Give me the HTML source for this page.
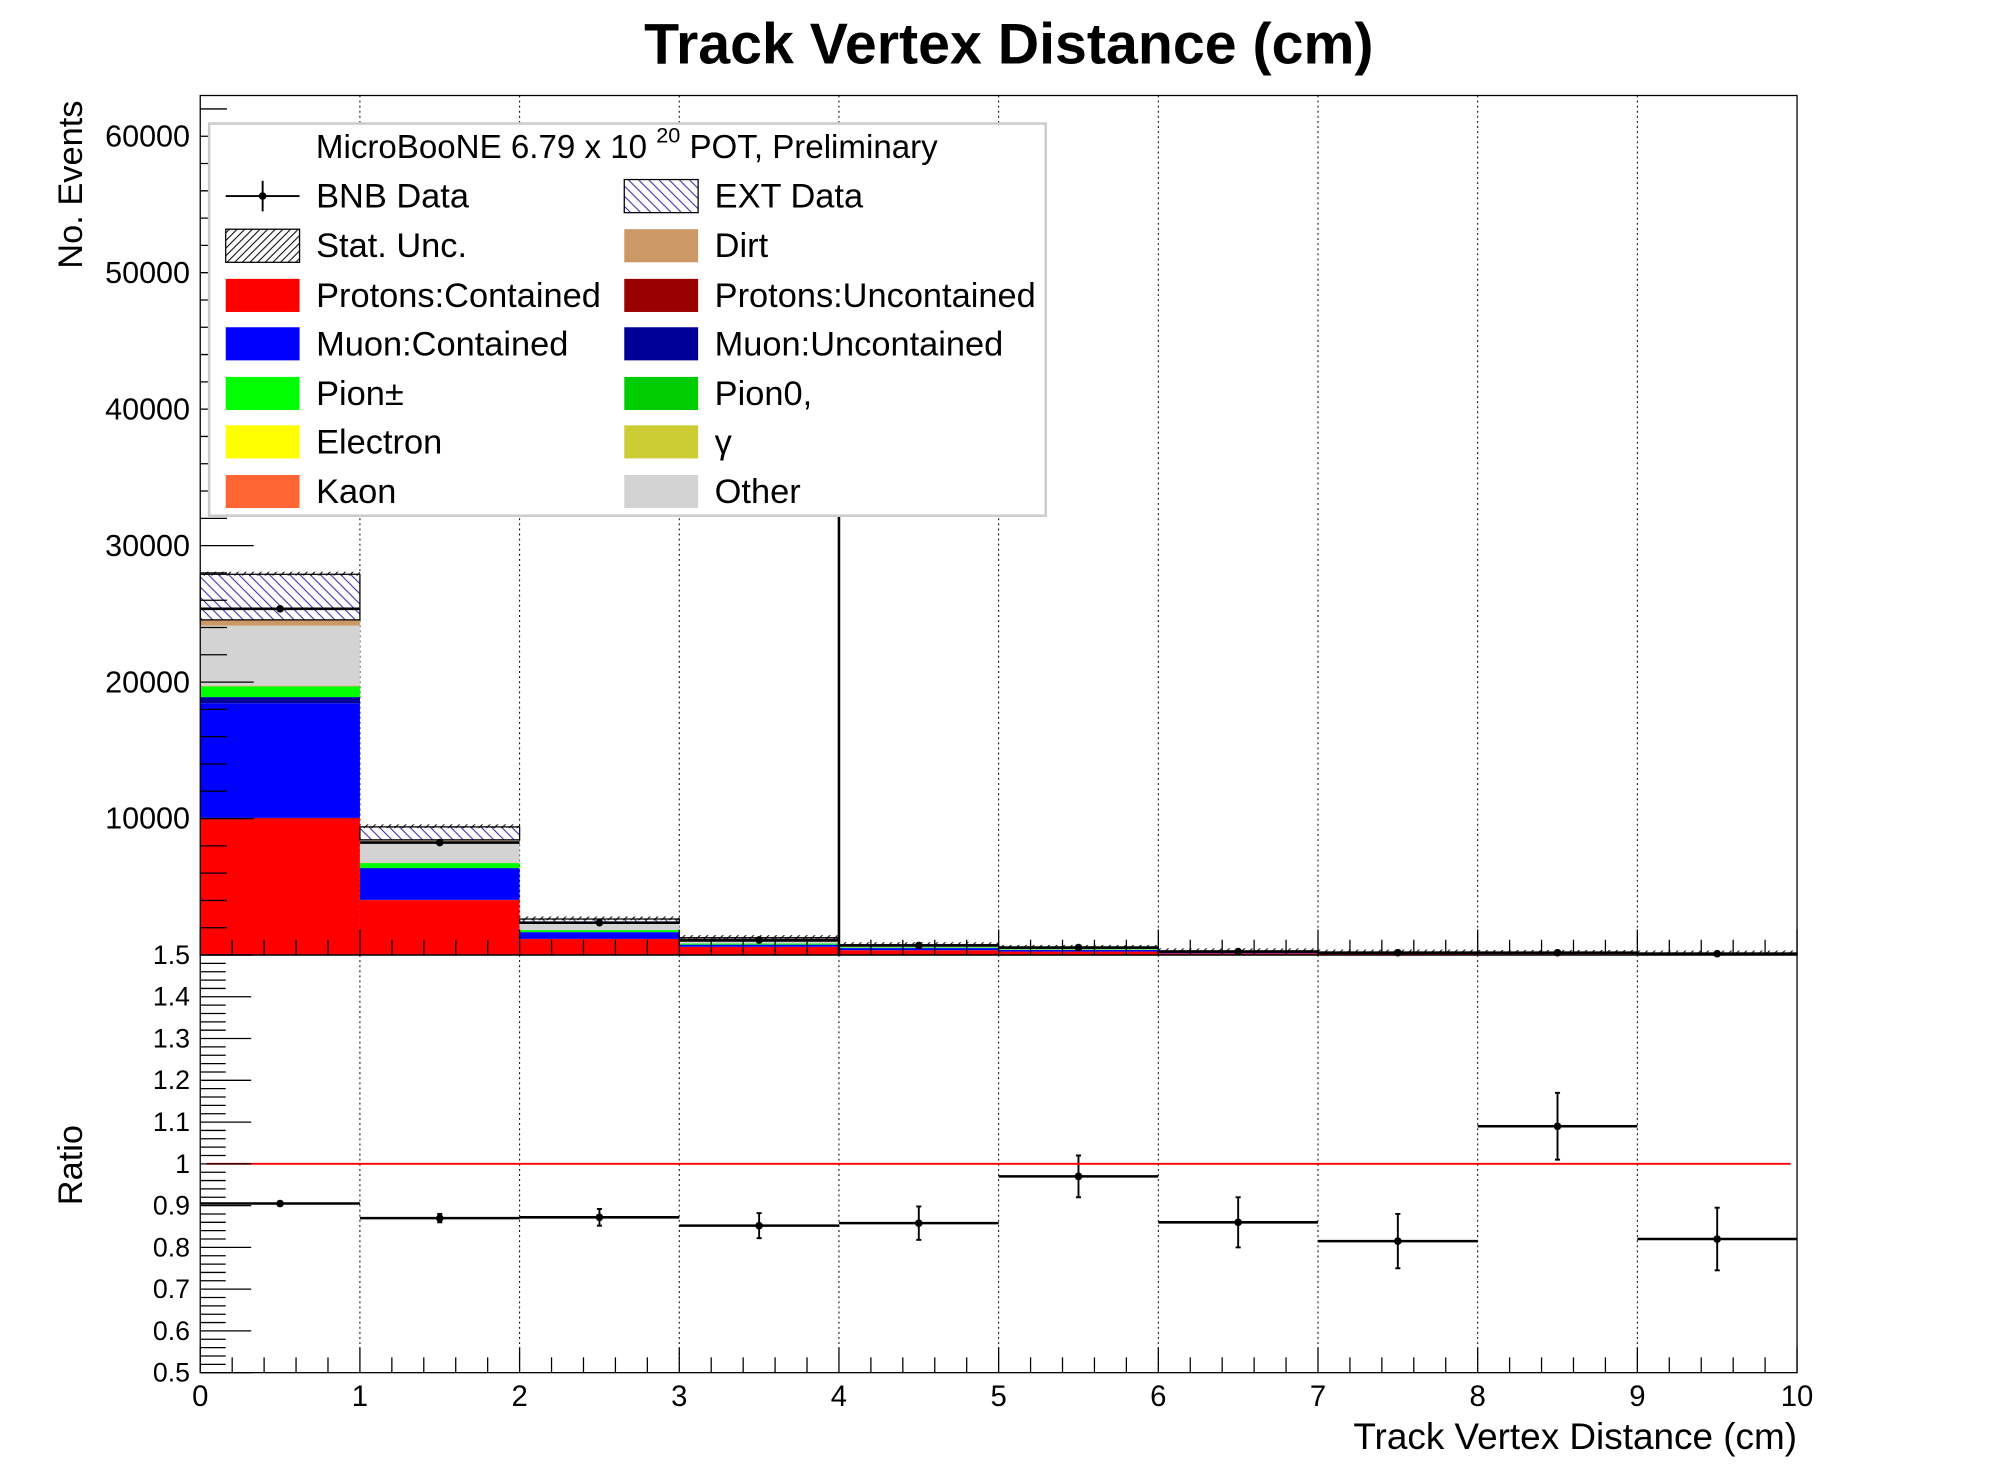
<!DOCTYPE html>
<html><head><meta charset="utf-8"><style>
body{margin:0;background:#fff}
svg{display:block;font-family:"Liberation Sans",sans-serif}
</style></head><body>
<svg id="c" width="1996" height="1472" viewBox="0 0 1567 1156" xmlns="http://www.w3.org/2000/svg">
<defs>
<pattern id="extH" patternUnits="userSpaceOnUse" width="8" height="8"><path d="M0,0 L8,8 M-4,4 L4,12 M4,-4 L12,4" stroke="#3b1fa8" stroke-width="0.8"/></pattern>
<pattern id="statH" patternUnits="userSpaceOnUse" width="6" height="6"><path d="M0,6 L6,0 M-3,3 L3,-3 M3,9 L9,3" stroke="#000" stroke-width="0.8"/></pattern>
</defs>
<text x="792" y="50" text-anchor="middle" font-size="45" font-weight="bold">Track Vertex Distance (cm)</text>
<g id="up"></g><g id="lo"></g>
<text transform="translate(64,145) rotate(-90)" text-anchor="middle" font-size="27">No. Events</text>
<text transform="translate(64,915) rotate(-90)" text-anchor="middle" font-size="27">Ratio</text>
<text x="1411" y="1138" text-anchor="end" font-size="29">Track Vertex Distance (cm)</text>
<g>
<rect x="164" y="97" width="657" height="308" fill="#fff" stroke="#ccc" stroke-width="2"/>
<text x="492" y="124" text-anchor="middle" font-size="26">MicroBooNE 6.79 x 10 <tspan dy="-12" font-size="17">20</tspan><tspan dy="12"> POT, Preliminary</tspan></text>
<g id="leg"></g>
</g>
</svg>
<script>
const bins=[0,1,2,3,4,5,6,7,8,9];
const protonsContained=[10000,4020,1170,600,350,250,120,80,60,60];
const protonsUncontained=[50,20,10,5,5,5,5,5,5,5];
const muonContained=[8400,2300,490,150,150,120,70,50,50,30];
const muonUncontained=[450,30,10,5,5,5,5,5,5,5];
const pionCharged=[750,360,140,80,50,40,30,20,20,10];
const pion0=[50,20,10,5,5,5,5,5,5,5];
const electron=[10,5,2,1,1,1,1,1,1,1];
const gamma=[10,5,2,1,1,1,1,1,1,1];
const kaon=[20,10,5,2,2,2,2,2,2,2];
const other=[4400,1600,480,160,100,60,30,20,15,10];
const dirt=[420,70,20,10,5,5,5,5,5,5];
const ext=[3340,950,300,250,80,60,30,20,15,10];
const dataCounts=[25370,8240,2370,1100,700,550,250,170,170,100];
const ratio=[0.905,0.87,0.872,0.852,0.858,0.97,0.86,0.815,1.09,0.82];
const ratioErr=[0.005,0.01,0.02,0.03,0.04,0.05,0.06,0.065,0.08,0.075];
const yTicks=[0,10000,20000,30000,40000,50000,60000];
const rTicks=[0.5,0.6,0.7,0.8,0.9,1,1.1,1.2,1.3,1.4,1.5];
const xTicks=[0,1,2,3,4,5,6,7,8,9,10];

const NS="http://www.w3.org/2000/svg";
const X=v=>157+v*125.4;
const Y=v=>750-v*0.010717;
const R=v=>914-(v-1)*328;
function mk(p,t,a){const e=document.createElementNS(NS,t);for(const k in a)e.setAttribute(k,a[k]);p.appendChild(e);return e;}
const up=document.getElementById('up'),lo=document.getElementById('lo');
const comps=[[protonsContained,'#ff0000','protons-contained'],[protonsUncontained,'#990000','protons-uncontained'],[muonContained,'#0000ff','muon-contained'],[muonUncontained,'#000099','muon-uncontained'],[pionCharged,'#00ff00','pion-charged'],[pion0,'#00cc00','pion0'],[electron,'#ffff00','electron'],[gamma,'#cccc33','gamma'],[kaon,'#ff6633','kaon'],[other,'#d3d3d3','other'],[dirt,'#cc9966','dirt']];
for(let i=1;i<10;i++){
 let g=mk(up,'line',{x1:X(i),x2:X(i),y1:75,y2:750,stroke:'#000','stroke-width':0.8,'stroke-dasharray':'1.5,2.5'});
 
 g=mk(lo,'line',{x1:X(i),x2:X(i),y1:750,y2:1078,stroke:'#000','stroke-width':0.8,'stroke-dasharray':'1.5,2.5'});
 
}
bins.forEach((b,i)=>{
 let base=0;
 comps.forEach(c=>{const v=c[0][i];
  const r=mk(up,'rect',{x:X(b),y:Y(base+v),width:125.4,height:Y(base)-Y(base+v),fill:c[1]});
  base+=v;});
 const e=mk(up,'rect',{x:X(b),y:Y(base+ext[i]),width:125.4,height:Y(base)-Y(base+ext[i]),fill:'url(#extH)',stroke:'#000','stroke-width':1});
 
 const t=base+ext[i];
 const s=mk(up,'rect',{x:X(b),y:Y(t)-2,width:125.4,height:3,fill:'url(#statH)'});
 
 const dl=mk(up,'line',{x1:X(b),x2:X(b+1),y1:Y(dataCounts[i]),y2:Y(dataCounts[i]),stroke:'#000','stroke-width':2});
 
 const dp=mk(up,'circle',{cx:X(b+0.5),cy:Y(dataCounts[i]),r:3,fill:'#000'});
 
 const rl=mk(lo,'line',{x1:X(b),x2:X(b+1),y1:R(ratio[i]),y2:R(ratio[i]),stroke:'#000','stroke-width':2});
 
 const re=mk(lo,'line',{x1:X(b+0.5),x2:X(b+0.5),y1:R(ratio[i]+ratioErr[i]),y2:R(ratio[i]-ratioErr[i]),stroke:'#000','stroke-width':1.5});
 
 [ratio[i]+ratioErr[i],ratio[i]-ratioErr[i]].forEach(v=>mk(lo,'line',{x1:X(b+0.5)-2,x2:X(b+0.5)+2,y1:R(v),y2:R(v),stroke:'#000','stroke-width':1.5}));
 const rp=mk(lo,'circle',{cx:X(b+0.5),cy:R(ratio[i]),r:3,fill:'#000'});
 
});
const vl=mk(up,'line',{x1:X(4),x2:X(4),y1:400,y2:750,stroke:'#000','stroke-width':2});

const one=mk(lo,'line',{x1:162,x2:1406,y1:R(1),y2:R(1),stroke:'#ff0000','stroke-width':1.5});

mk(up,'rect',{x:157,y:75,width:1254,height:675,fill:'none',stroke:'#000','stroke-width':1});
mk(lo,'rect',{x:157,y:750,width:1254,height:328,fill:'none',stroke:'#000','stroke-width':1});
for(let v=0;v<=62000;v+=2000){const maj=v%10000===0;mk(up,'line',{x1:157,x2:157+(maj?42:21),y1:Y(v),y2:Y(v),stroke:'#000','stroke-width':1});}
yTicks.forEach(v=>{if(v===0)return;const t=mk(up,'text',{x:149,y:Y(v)+8,'text-anchor':'end','font-size':24});t.textContent=v;});
for(let v=0.5;v<=1.5001;v+=0.02){const maj=Math.abs(v*10-Math.round(v*10))<0.01;mk(lo,'line',{x1:157,x2:157+(maj?40:20),y1:R(v),y2:R(v),stroke:'#000','stroke-width':1});}
rTicks.forEach(v=>{const t=mk(lo,'text',{x:149,y:R(v)+7,'text-anchor':'end','font-size':21});t.textContent=v;});
for(let k=0;k<=50;k++){const v=k*0.2,maj=k%5===0,l=maj?20:12;
 mk(up,'line',{x1:X(v),x2:X(v),y1:750,y2:750-l,stroke:'#000','stroke-width':1});
 mk(lo,'line',{x1:X(v),x2:X(v),y1:1078,y2:1078-l,stroke:'#000','stroke-width':1});}
xTicks.forEach(v=>{const t=mk(lo,'text',{x:X(v),y:1104,'text-anchor':'middle','font-size':23});t.textContent=v;});
const leg=document.getElementById('leg');
const L=[['BNB Data','data','EXT Data','url(#extH)'],['Stat. Unc.','url(#statH)','Dirt','#cc9966'],['Protons:Contained','#ff0000','Protons:Uncontained','#990000'],['Muon:Contained','#0000ff','Muon:Uncontained','#000099'],['Pion±','#00ff00','Pion0,','#00cc00'],['Electron','#ffff00','γ','#cccc33'],['Kaon','#ff6633','Other','#d3d3d3']];
const rows=[154,193,232,270,309,347,386];
L.forEach((r,i)=>{[[177,248,r[0],r[1]],[490,561,r[2],r[3]]].forEach(c=>{
 const g=mk(leg,'g',{});
 if(c[3]==='data'){mk(g,'line',{x1:177,x2:235,y1:rows[i],y2:rows[i],stroke:'#000','stroke-width':1.5});mk(g,'line',{x1:206,x2:206,y1:rows[i]-12,y2:rows[i]+12,stroke:'#000','stroke-width':1.5});mk(g,'circle',{cx:206,cy:rows[i],r:3});}
 else mk(g,'rect',{x:c[0],y:rows[i]-13,width:58,height:26,fill:c[3],stroke:(c[3].startsWith('url')?'#000':'none'),'stroke-width':1});
 const t=mk(g,'text',{x:c[1],y:rows[i]+9,'font-size':27});t.textContent=c[2];});});
</script>
</body></html>
